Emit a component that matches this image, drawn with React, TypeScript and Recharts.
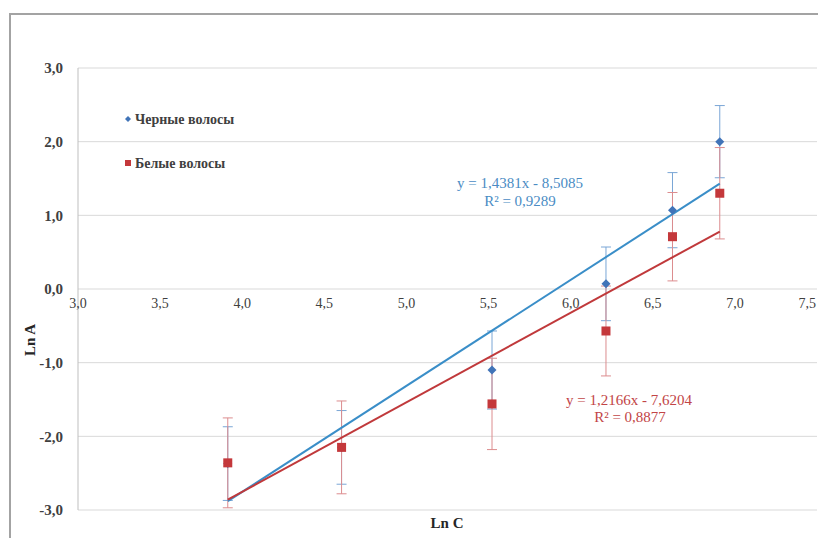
import React from 'react';
import { ScatterChart, Scatter, XAxis, YAxis, CartesianGrid, ErrorBar, Legend } from 'recharts';

// ---- data ----
const lnC = [3.912, 4.605, 5.521, 6.215, 6.62, 6.908];
const blackLnA = [-2.37, -2.15, -1.1, 0.07, 1.07, 2.0];
const blackErr = [0.5, 0.5, 0.53, 0.5, 0.51, 0.49];
const whiteLnA = [-2.36, -2.15, -1.56, -0.57, 0.71, 1.3];
const whiteErr = [0.61, 0.63, 0.62, 0.61, 0.6, 0.62];
const trendX = [3.912, 6.908];
const blackTrendY = [-2.88, 1.43];
const whiteTrendY = [-2.86, 0.78];
const xTicks = [3, 3.5, 4, 4.5, 5, 5.5, 6, 6.5, 7, 7.5];
const yTicks = [-3, -2, -1, 0, 1, 2, 3];
const seriesNames = ['Черные волосы', 'Белые волосы'];
const blackEq = ['y = 1,4381x - 8,5085', 'R² = 0,9289'];
const whiteEq = ['y = 1,2166x - 7,6204', 'R² = 0,8877'];

const blackData = lnC.map((x, i) => ({ x, y: blackLnA[i], err: blackErr[i] }));
const whiteData = lnC.map((x, i) => ({ x, y: whiteLnA[i], err: whiteErr[i] }));
const blackTrend = trendX.map((x, i) => ({ x, y: blackTrendY[i] }));
const whiteTrend = trendX.map((x, i) => ({ x, y: whiteTrendY[i] }));

// ---- layout ----
const W = 818;
const H = 530;
const M = { top: 60, right: 9, left: 10, bottom: 6 };
const YW = 60;
const XH = 22;
const PLOT_H = H - M.top - M.bottom - XH;
const ZERO_Y = M.top + PLOT_H * (3 - 0) / 6;

const FONT = '"Liberation Serif", "Times New Roman", serif';
const BLUE = '#4174b8';
const BLUE_LINE = '#3a8ec8';
const BLUE_TXT = '#4a8cc4';
const RED = '#c4383b';
const RED_LINE = '#c0393b';
const RED_TXT = '#c24446';
const TXT = '#404040';

const fmt = (v: number) => v.toFixed(1).replace('.', ',');

const XTick = (props: any) => {
  const { x, payload } = props;
  const nearEdge = x + 12 > W - 8;
  return (
    <text
      x={nearEdge ? W - 10 : x}
      y={ZERO_Y + 19}
      textAnchor={nearEdge ? 'end' : 'middle'}
      fontFamily={FONT}
      fontSize={14}
      fill={TXT}
    >
      {fmt(payload.value)}
    </text>
  );
};

const Diamond = (props: any) => {
  const { cx, cy } = props;
  const r = 4.5;
  return <polygon points={`${cx},${cy - r} ${cx + r},${cy} ${cx},${cy + r} ${cx - r},${cy}`} fill={BLUE} />;
};

const Square = (props: any) => {
  const { cx, cy } = props;
  const s = 9;
  return <rect x={cx - s / 2} y={cy - s / 2} width={s} height={s} fill={RED} />;
};

const NoShape = () => <g />;

const LegendContent = () => (
  <svg width={170} height={75}>
    <polygon points="10,13 13,16 10,19 7,16" fill={BLUE} />
    <text x={17} y={16} dominantBaseline="central" fontFamily={FONT} fontSize={14} fontWeight="bold" fill={TXT}>
      {seriesNames[0]}
    </text>
    <rect x={7} y={57} width={6} height={6} fill={RED} />
    <text x={17} y={60} dominantBaseline="central" fontFamily={FONT} fontSize={14} fontWeight="bold" fill={TXT}>
      {seriesNames[1]}
    </text>
  </svg>
);

export default function App() {
  return (
    <div style={{ position: 'relative', width: W, height: H, background: '#fff' }}>
      <div
        style={{
          position: 'absolute',
          left: 1,
          top: 5,
          width: W - 1,
          height: H - 5,
          borderTop: '2px solid #a3a3a3',
          borderLeft: '2px solid #a3a3a3',
          boxSizing: 'border-box',
        }}
      />
      <ScatterChart width={W} height={H} margin={M} style={{ overflow: 'visible' }}>
        <CartesianGrid vertical={false} stroke="#d9d9d9" />
        <XAxis
          type="number"
          dataKey="x"
          domain={[3, 7.5]}
          ticks={xTicks}
          height={XH}
          axisLine={false}
          tickLine={false}
          tick={<XTick />}
          interval={0}
        />
        <YAxis
          type="number"
          dataKey="y"
          domain={[-3, 3]}
          ticks={yTicks}
          width={YW}
          axisLine={{ stroke: '#bfbfbf' }}
          tickLine={false}
          tickSize={0}
          tickMargin={15}
          tickFormatter={fmt}
          tick={{ fontFamily: FONT, fontSize: 15, fontWeight: 'bold', fill: TXT }}
          interval={0}
        />
        <Legend
          layout="vertical"
          align="center"
          verticalAlign="middle"
          content={<LegendContent />}
          wrapperStyle={{ left: 110, top: 95, width: 170, height: 75 }}
        />
        <Scatter
          name="trend-black"
          data={blackTrend}
          line={{ stroke: BLUE_LINE, strokeWidth: 2 }}
          shape={<NoShape />}
          legendType="none"
          isAnimationActive={false}
        />
        <Scatter
          name="trend-white"
          data={whiteTrend}
          line={{ stroke: RED_LINE, strokeWidth: 2 }}
          shape={<NoShape />}
          legendType="none"
          isAnimationActive={false}
        />
        <Scatter name={seriesNames[0]} data={blackData} shape={<Diamond />} isAnimationActive={false}>
          <ErrorBar dataKey="err" direction="y" width={5} stroke="#7aa6d6" strokeWidth={1} />
        </Scatter>
        <Scatter name={seriesNames[1]} data={whiteData} shape={<Square />} isAnimationActive={false}>
          <ErrorBar dataKey="err" direction="y" width={5} stroke="#dc8c8e" strokeWidth={1} />
        </Scatter>
      </ScatterChart>
      <svg width={W} height={H} style={{ position: 'absolute', left: 0, top: 0, pointerEvents: 'none', overflow: 'visible' }}>
        <text x={512} y={175} textAnchor="middle" dominantBaseline="central" fontFamily={FONT} fontSize={15} fill={BLUE_TXT}>
          {blackEq[0]}
        </text>
        <text x={512} y={193} textAnchor="middle" dominantBaseline="central" fontFamily={FONT} fontSize={15} fill={BLUE_TXT}>
          {blackEq[1]}
        </text>
        <text x={621} y={392} textAnchor="middle" dominantBaseline="central" fontFamily={FONT} fontSize={15} fill={RED_TXT}>
          {whiteEq[0]}
        </text>
        <text x={622} y={409} textAnchor="middle" dominantBaseline="central" fontFamily={FONT} fontSize={15} fill={RED_TXT}>
          {whiteEq[1]}
        </text>
        <text x={439} y={515} textAnchor="middle" dominantBaseline="central" fontFamily={FONT} fontSize={15} fontWeight="bold" fill="#262626">
          Ln C
        </text>
        <text
          x={22}
          y={332}
          textAnchor="middle"
          dominantBaseline="central"
          fontFamily={FONT}
          fontSize={15}
          fontWeight="bold"
          fill="#262626"
          transform="rotate(-90, 22, 332)"
        >
          Ln A
        </text>
      </svg>
    </div>
  );
}
